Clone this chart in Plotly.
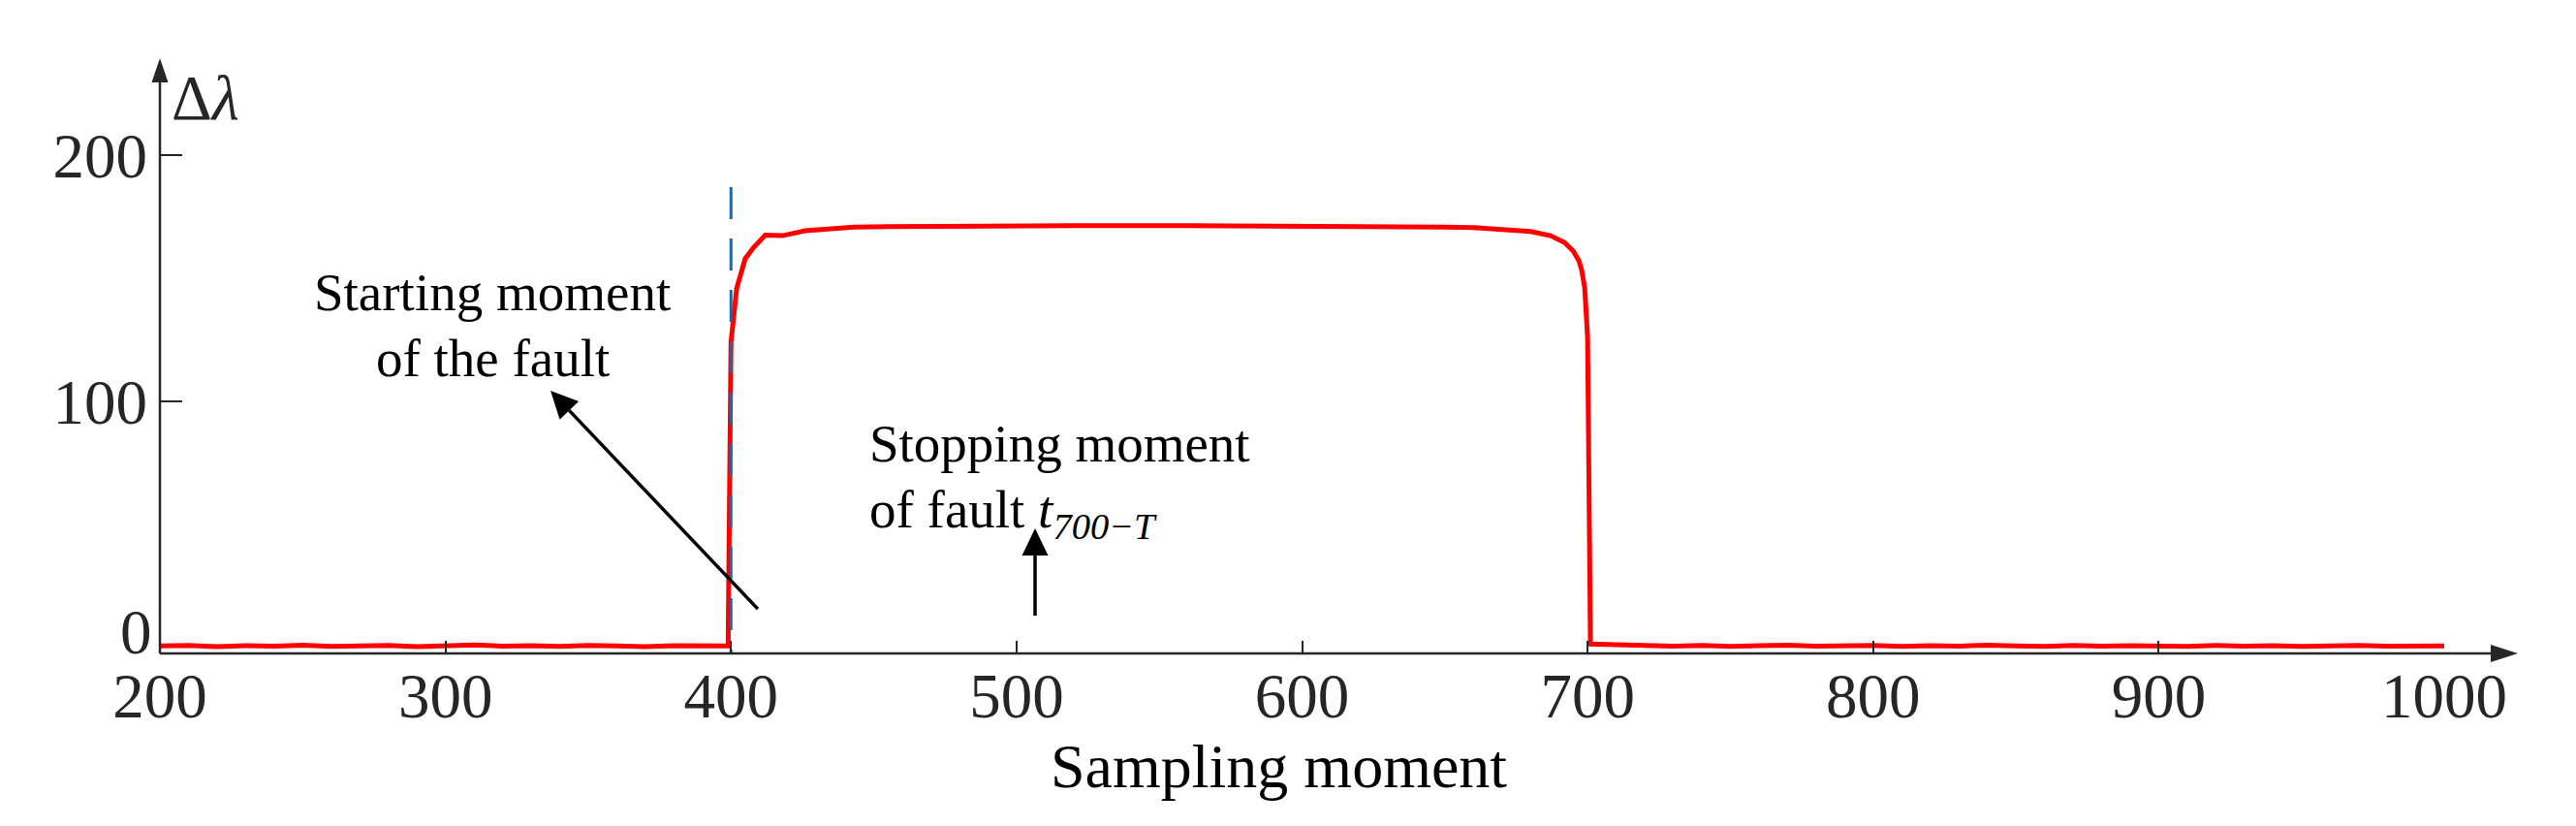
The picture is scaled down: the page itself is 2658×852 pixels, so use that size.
import math
import plotly.graph_objects as go

# ---------------- data ----------------
sample_x = [200, 210, 220, 230, 240, 250, 260, 270, 280, 290, 300, 310, 320, 330, 340,
            350, 360, 370, 380, 390, 399,
            400, 402, 405, 408, 412, 418, 426, 435, 443, 455, 470, 490, 520, 560, 600,
            630, 650, 660, 670, 680, 687, 692, 695, 697, 698, 699, 700, 701,
            710, 720, 730, 740, 750, 760, 770, 780, 790, 800, 810, 820, 830, 840, 850,
            860, 870, 880, 890, 900, 910, 920, 930, 940, 950, 960, 970, 980, 990, 1000]
delta_lambda = [0.7, 0.9, 0.4, 0.8, 0.6, 1.0, 0.5, 0.8, 0.9, 0.4, 0.7, 1.1, 0.6, 0.8, 0.5,
                0.9, 0.7, 0.4, 0.8, 0.6, 0.7,
                124.0, 146.0, 158.0, 162.6, 167.5, 167.3, 169.3, 170.1, 170.8, 171.0, 171.2,
                171.3, 171.4, 171.4, 171.3, 171.1, 170.8, 170.6, 170.0, 169.0, 167.3, 164.5,
                161.0, 157.0, 153.0, 146.0, 126.0, 1.5,
                1.2, 0.8, 0.6, 0.9, 0.5, 0.8, 1.0, 0.6, 0.7, 0.9, 0.5, 0.8, 0.6, 1.0, 0.7,
                0.5, 0.9, 0.6, 0.8, 0.7, 0.5, 0.9, 0.6, 0.8, 0.5, 0.7, 0.9, 0.6, 0.8, 0.7]
fault_start = 400
fault_marker_top = 187
x_ticks = [200, 300, 400, 500, 600, 700, 800, 900, 1000]
y_ticks = [100, 200]
x_range = [200, 1000]
y_range = [-2.36, 239.4]

# annotation arrows (tip, tail) in data units
arrow_start = ((336.8, 104.3), (409.4, 15.7))
arrow_stop = ((506.5, 48.4), (506.5, 13.0))

# ---------------- layout geometry ----------------
OFF = 8                      # page body margin of the browser
W, H = 2658 - 2 * OFF, 852 - 2 * OFF
# reference pixel positions of the plot frame
REF_L, REF_R, REF_T, REF_B = 165, 2522, 60, 674
L, T = REF_L - OFF, REF_T - OFF
R = W - (REF_R - OFF)
B = H - (REF_B - OFF)
AX = "#262626"
SERIF = "Liberation Serif, Times New Roman, serif"
XS = (REF_R - REF_L) / (x_range[1] - x_range[0])     # px per x unit
YS = (REF_B - REF_T) / (y_range[1] - y_range[0])     # px per y unit


def px(xp):   # reference pixel x -> paper
    return (xp - REF_L) / (REF_R - REF_L)


def py(yp):   # reference pixel y -> paper
    return (REF_B - yp) / (REF_B - REF_T)


fig = go.Figure()
fig.add_trace(go.Scatter(x=sample_x, y=delta_lambda, mode="lines",
                         line=dict(color="#FF0000", width=5), showlegend=False,
                         hoverinfo="skip"))
fig.add_trace(go.Scatter(x=[fault_start, fault_start], y=[fault_marker_top, y_range[0]],
                         mode="lines", line=dict(color="#0072BD", width=3, dash="33px,20px"),
                         showlegend=False, hoverinfo="skip"))

shapes = [
    # x axis line and arrowhead
    dict(type="line", xref="paper", yref="paper", x0=0, x1=px(2572), y0=0, y1=0,
         line=dict(color=AX, width=2.5)),
    dict(type="path", xref="paper", yref="paper", xsizemode="pixel", ysizemode="pixel",
         xanchor=px(2598), yanchor=0, path="M0,0 L-28,9 L-28,-9 Z",
         fillcolor=AX, line=dict(width=0)),
    # y axis line and arrowhead
    dict(type="line", xref="paper", yref="paper", x0=0, x1=0, y0=0, y1=py(85),
         line=dict(color=AX, width=2.5)),
    dict(type="path", xref="paper", yref="paper", xsizemode="pixel", ysizemode="pixel",
         xanchor=0, yanchor=py(60), path="M0,0 L-8.5,-25 L8.5,-25 Z",
         fillcolor=AX, line=dict(width=0)),
]


def arrow_shapes(tip, tail, head_len=28, head_w=27, lw=3.5):
    # direction in screen pixels (y up)
    dx = (tail[0] - tip[0]) * XS
    dy = (tail[1] - tip[1]) * YS
    n = math.hypot(dx, dy)
    ux, uy = dx / n, dy / n
    bx, by = ux * head_len, uy * head_len
    perp_x, perp_y = -uy * head_w / 2, ux * head_w / 2
    c1 = (bx + perp_x, by + perp_y)
    c2 = (bx - perp_x, by - perp_y)
    base = (tip[0] + bx / XS, tip[1] + by / YS)
    return [
        dict(type="line", xref="x", yref="y", x0=tail[0], y0=tail[1], x1=base[0], y1=base[1],
             line=dict(color="black", width=lw)),
        dict(type="path", xref="x", yref="y", xsizemode="pixel", ysizemode="pixel",
             xanchor=tip[0], yanchor=tip[1],
             path=f"M0,0 L{c1[0]:.2f},{c1[1]:.2f} L{c2[0]:.2f},{c2[1]:.2f} Z",
             fillcolor="black", line=dict(width=0)),
    ]


shapes += arrow_shapes(*arrow_start)
shapes += arrow_shapes(*arrow_stop)


def label(text, xp, yp, size, anchor="center", color="black"):
    return dict(text=text, xref="paper", yref="paper", x=px(xp), y=py(yp),
                xanchor=anchor, yanchor="middle", showarrow=False,
                font=dict(family=SERIF, size=size, color=color))


annotations = [
    label("Δ<i>λ</i>", 175, 101, 65, "left", AX),
    label("0", 159, 652, 65, "right", AX),
    label("Sampling moment", 1319, 790, 64, "center"),
    label("Starting moment", 508, 301, 55, "center"),
    label("of the fault", 508, 369, 55, "center"),
    label("Stopping moment", 895, 457, 55, "left"),
    label("of fault <i>t</i><sub><i>700−T</i></sub>", 895, 529, 55, "left"),
]

fig.update_layout(
    width=W, height=H, margin=dict(l=L, r=R, t=T, b=B, pad=0),
    plot_bgcolor="white", paper_bgcolor="white",
    shapes=shapes, annotations=annotations,
    xaxis=dict(range=x_range, tickvals=x_ticks, ticks="inside", ticklen=13, tickwidth=1.5,
               tickcolor=AX, showline=False, showgrid=False, zeroline=False,
               tickfont=dict(family=SERIF, size=65, color=AX)),
    yaxis=dict(range=y_range, tickvals=y_ticks, ticks="inside", ticklen=23, tickwidth=1.5,
               tickcolor=AX, showline=False, showgrid=False, zeroline=False,
               ticklabelstandoff=12,
               tickfont=dict(family=SERIF, size=65, color=AX)),
)

fig.write_html("out.html")
